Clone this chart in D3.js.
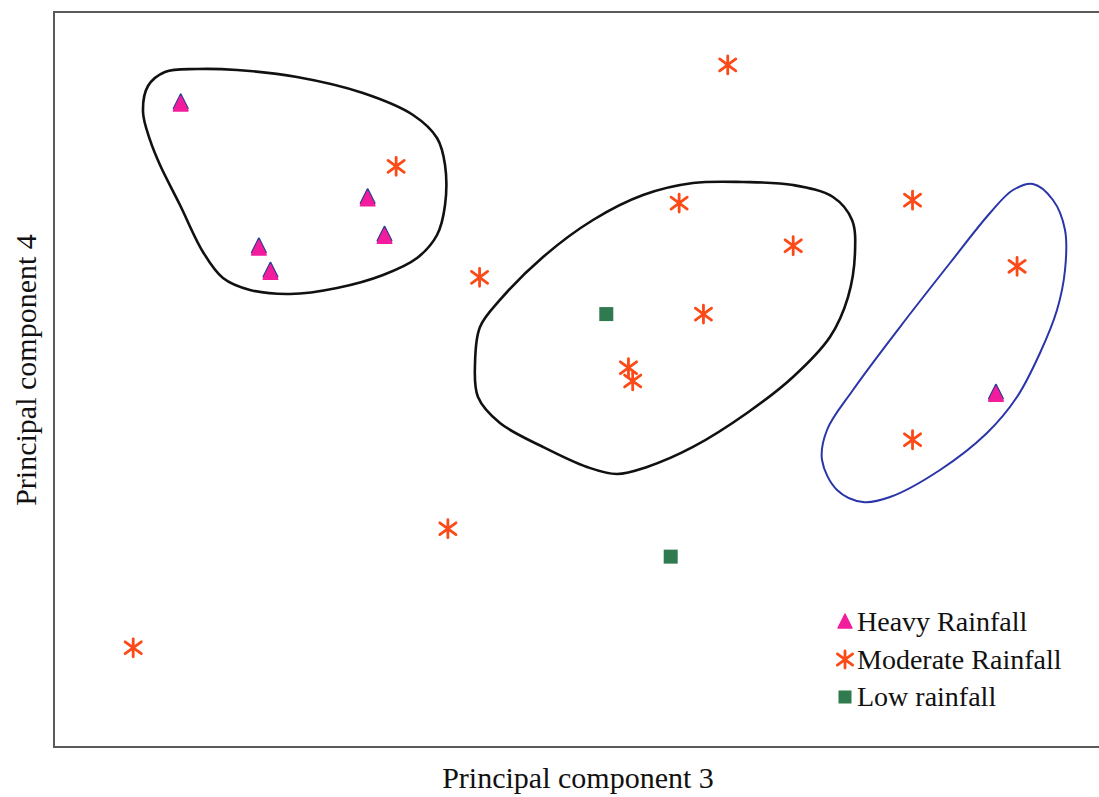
<!DOCTYPE html>
<html>
<head>
<meta charset="utf-8">
<script src="https://cdn.jsdelivr.net/npm/d3@7"></script>
<style>
  html, body { margin: 0; padding: 0; background: #fff; }
  svg { display: block; }
</style>
</head>
<body>
<svg id="chart" width="1099" height="797"></svg>
<script>
// PCA scores (component 3, component 4) for each rainfall class
const heavyPC3 = [1.20, 1.94, 2.05, 2.97, 3.13, 8.92];
const heavyPC4 = [8.75, 6.79, 6.46, 7.46, 6.95, 4.80];

const moderatePC3 = [6.38, 3.24, 5.92, 8.13, 7.00, 9.12, 4.03, 6.15, 5.44, 5.48, 8.13, 3.73, 0.75];
const moderatePC4 = [9.28, 7.90, 7.40, 7.44, 6.82, 6.54, 6.39, 5.89, 5.16, 4.98, 4.18, 2.97, 1.35];

const lowPC3 = [5.23, 5.84];
const lowPC4 = [5.89, 2.59];

// Outline points of the hand-drawn group envelopes
const groupA_PC3 = [0.843, 0.890, 1.051, 1.354, 1.733, 2.301, 2.926, 3.400, 3.627, 3.703, 3.703, 3.627, 3.438, 3.116, 2.680, 2.235, 1.856, 1.600, 1.411, 1.193, 1.004, 0.909];
const groupA_PC4 = [8.639, 8.993, 9.184, 9.224, 9.211, 9.116, 8.898, 8.599, 8.286, 7.918, 7.374, 6.966, 6.653, 6.422, 6.245, 6.163, 6.218, 6.381, 6.735, 7.374, 7.918, 8.259];

const groupB_PC3 = [6.051, 6.525, 6.998, 7.377, 7.557, 7.585, 7.519, 7.348, 6.998, 6.563, 6.051, 5.616, 5.331, 5.047, 4.631, 4.223, 4.015, 3.987, 4.034, 4.223, 4.631, 5.104, 5.578];
const groupB_PC4 = [7.673, 7.687, 7.646, 7.483, 7.170, 6.721, 6.122, 5.578, 5.034, 4.544, 4.082, 3.810, 3.714, 3.810, 4.082, 4.408, 4.762, 5.224, 5.714, 6.082, 6.667, 7.170, 7.510];

const groupC_PC3 = [9.271, 9.460, 9.574, 9.574, 9.498, 9.337, 9.119, 8.835, 8.390, 7.917, 7.661, 7.415, 7.273, 7.320, 7.566, 8.011, 8.485, 8.864, 9.081];
const groupC_PC4 = [7.660, 7.442, 7.034, 6.490, 5.946, 5.361, 4.762, 4.272, 3.769, 3.401, 3.333, 3.497, 3.905, 4.313, 4.857, 5.714, 6.585, 7.265, 7.578];

const legendLabels = ["Heavy Rainfall", "Moderate Rainfall", "Low rainfall"];
const xTitle = "Principal component 3";
const yTitle = "Principal component 4";

const svg = d3.select("#chart");
const plot = { left: 54, right: 1112, top: 12, bottom: 747 };
const serif = "Liberation Serif, Times New Roman, serif";

const x = d3.scaleLinear().domain([0, 10]).range([plot.left, plot.left + 1056]);
const y = d3.scaleLinear().domain([0, 10]).range([plot.bottom, plot.bottom - 735]);

const zip = (a, b) => a.map((v, i) => [v, b[i]]);

// frame
svg.append("rect")
  .attr("x", plot.left).attr("y", plot.top)
  .attr("width", plot.right - plot.left).attr("height", plot.bottom - plot.top)
  .attr("fill", "none").attr("stroke", "#5a5a5a").attr("stroke-width", 2);

// group envelopes
const outline = d3.line()
  .x(d => x(d[0])).y(d => y(d[1]))
  .curve(d3.curveCatmullRomClosed.alpha(0.5));

svg.append("path").attr("d", outline(zip(groupA_PC3, groupA_PC4)))
  .attr("fill", "none").attr("stroke", "#111").attr("stroke-width", 2.6);
svg.append("path").attr("d", outline(zip(groupB_PC3, groupB_PC4)))
  .attr("fill", "none").attr("stroke", "#111").attr("stroke-width", 2.6);
svg.append("path").attr("d", outline(zip(groupC_PC3, groupC_PC4)))
  .attr("fill", "none").attr("stroke", "#2a35a8").attr("stroke-width", 2);

// marker drawers
const pink = "#f21c9c", navy = "#2b3c92", orange = "#fb4a17", green = "#2f7a4e";

function triangle(g, cx, cy, s) {
  const tri = (dy) => `M${cx},${cy - s * 0.55 + dy} L${cx + s * 0.5},${cy + s * 0.45 + dy} L${cx - s * 0.5},${cy + s * 0.45 + dy} Z`;
  g.append("path").attr("d", tri(-1.8)).attr("fill", navy)
    .attr("stroke", navy).attr("stroke-width", 2).attr("stroke-linejoin", "round");
  g.append("path").attr("d", tri(0.6)).attr("fill", pink)
    .attr("stroke", pink).attr("stroke-width", 2).attr("stroke-linejoin", "round");
}

function asterisk(g, cx, cy, s) {
  const h = s * 0.5, dx = s * 0.45, dy = s * 0.33;
  g.append("path")
    .attr("d", `M${cx},${cy - h} L${cx},${cy + h} M${cx - dx},${cy - dy} L${cx + dx},${cy + dy} M${cx - dx},${cy + dy} L${cx + dx},${cy - dy}`)
    .attr("stroke", orange).attr("stroke-width", 2.8).attr("stroke-linecap", "round").attr("fill", "none");
}

function square(g, cx, cy, s) {
  g.append("rect").attr("x", cx - s / 2).attr("y", cy - s / 2)
    .attr("width", s).attr("height", s).attr("fill", green);
}

const marks = svg.append("g");
zip(moderatePC3, moderatePC4).forEach(d => asterisk(marks, x(d[0]), y(d[1]), 18));
zip(lowPC3, lowPC4).forEach(d => square(marks, x(d[0]), y(d[1]), 14));
zip(heavyPC3, heavyPC4).forEach(d => triangle(marks, x(d[0]), y(d[1]), 14));

// legend
const legend = svg.append("g");
const legendY = d3.scalePoint().domain(legendLabels).range([622, 697]);
legendLabels.forEach((lab, i) => {
  const cy = legendY(lab);
  if (i === 0) {
    legend.append("path").attr("d", `M845,${cy - 8} L852,${cy + 6} L838,${cy + 6} Z`)
      .attr("fill", pink).attr("stroke", pink).attr("stroke-width", 1.4).attr("stroke-linejoin", "round");
  } else if (i === 1) {
    asterisk(legend, 845, cy, 17);
  } else {
    square(legend, 845, cy, 13);
  }
  legend.append("text")
    .attr("x", 857).attr("y", cy + 9)
    .attr("font-family", serif)
    .attr("font-size", 28).attr("fill", "#111")
    .text(lab);
});

// axis titles
svg.append("text")
  .attr("x", 578).attr("y", 788)
  .attr("text-anchor", "middle")
  .attr("font-family", serif)
  .attr("font-size", 30).attr("fill", "#111")
  .text(xTitle);

svg.append("text")
  .attr("transform", "translate(36,370) rotate(-90)")
  .attr("text-anchor", "middle")
  .attr("font-family", serif)
  .attr("font-size", 30).attr("fill", "#111")
  .text(yTitle);
</script>
</body>
</html>
